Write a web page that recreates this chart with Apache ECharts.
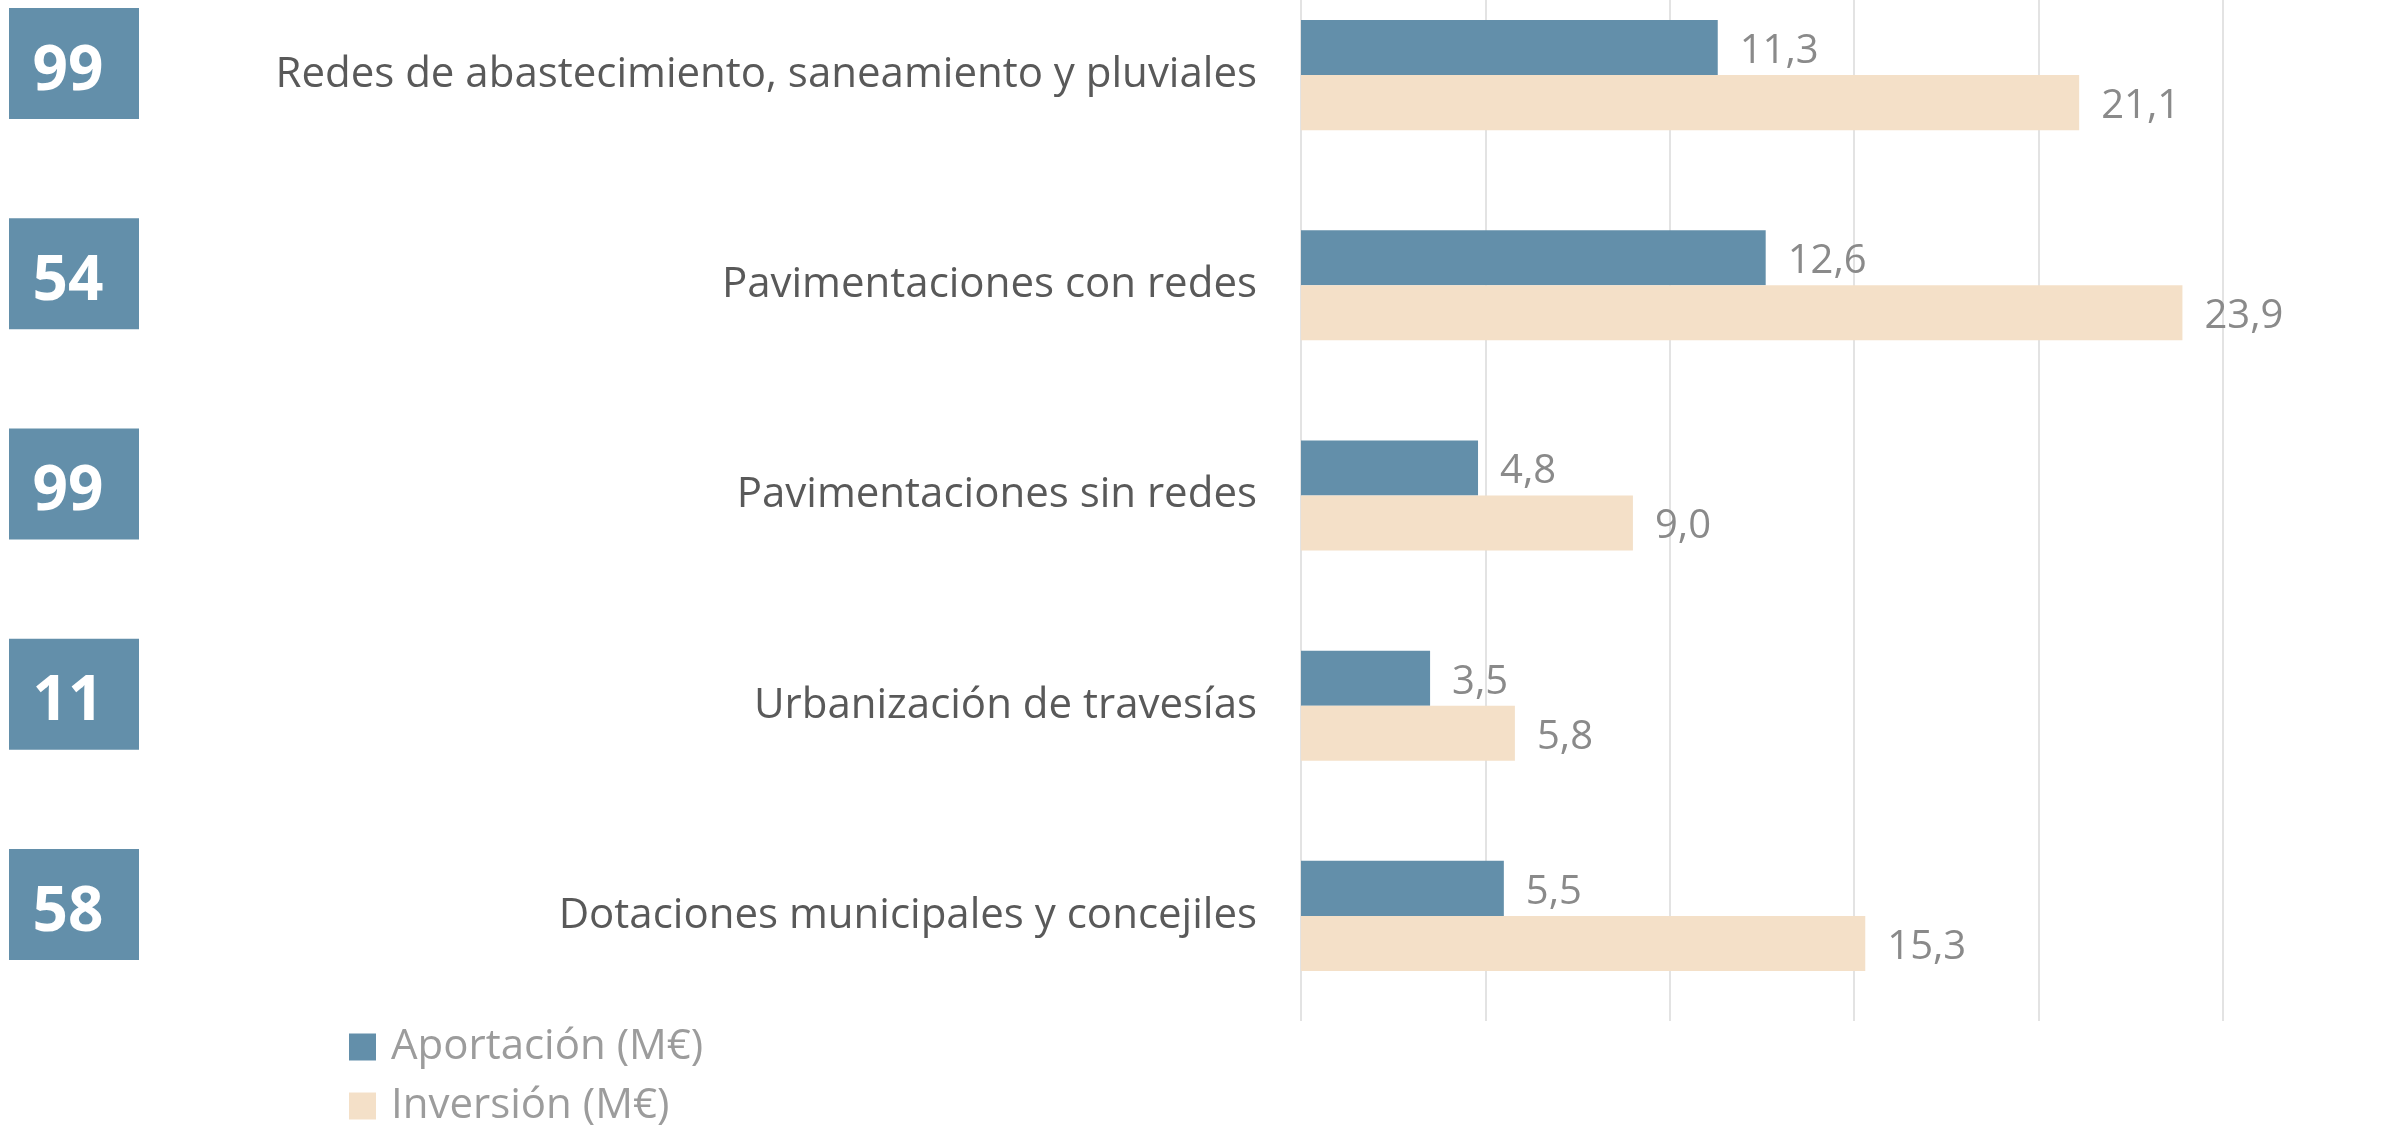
<!DOCTYPE html>
<html>
<head>
<meta charset="utf-8">
<script src="https://cdn.jsdelivr.net/npm/echarts@6/dist/echarts.min.js"></script>
<style>
  html, body { margin: 0; padding: 0; background: #fff; overflow: hidden; }
  /* el gráfico original está recortado por arriba: se sube 30px */
  #chart { width: 2394px; height: 1158px; margin-top: -30px; }
</style>
</head>
<body>
<div id="chart"></div>
<script>
// datos
const categorias = [
    'Redes de abastecimiento, saneamiento y pluviales',
    'Pavimentaciones con redes',
    'Pavimentaciones sin redes',
    'Urbanización de travesías',
    'Dotaciones municipales y concejiles'
];
const aportacion = [11.3, 12.6, 4.8, 3.5, 5.5];
const inversion = [21.1, 23.9, 9.0, 5.8, 15.3];
const numActuaciones = [99, 54, 99, 11, 58];
const nombresSeries = ['Aportación (M€)', 'Inversión (M€)'];

const FONT = '"Open Sans", "Noto Sans", sans-serif';
const fmt = v => v.toFixed(1).replace('.', ',');

const chart = echarts.init(document.getElementById('chart'));

const etiqueta = {
    show: true, position: 'right', distance: 22, offset: [0, 4], formatter: p => fmt(p.value),
    fontFamily: FONT, fontSize: 40, color: '#8a8a8a'
};

chart.setOption({
    animation: false,
    backgroundColor: '#ffffff',
    grid: { left: 1301, right: 171, top: 0, bottom: 107, containLabel: false },
    legend: {
        data: nombresSeries,
        orient: 'vertical',
        left: 344, top: 1051, height: 200,
        itemWidth: 27, itemHeight: 27, itemGap: 17,
        icon: 'rect',
        textStyle: { fontFamily: FONT, fontSize: 42, lineHeight: 40, color: '#9c9c9c', padding: [0, 0, 0, 10] }
    },
    xAxis: {
        type: 'value', min: 0, max: 25, interval: 5,
        axisLabel: { show: false },
        axisLine: { show: false },
        axisTick: { show: false },
        splitLine: { show: true, lineStyle: { color: '#e3e3e3', width: 2 } }
    },
    yAxis: {
        type: 'category', data: categorias, inverse: true,
        axisLine: { show: false },
        axisTick: { show: false },
        axisLabel: { fontFamily: FONT, fontSize: 42, color: '#595959', margin: 44, padding: [10, 0, 0, 0] }
    },
    series: [
        {
            name: nombresSeries[0], type: 'bar', data: aportacion,
            barGap: '0%', barCategoryGap: '47.6%',
            itemStyle: { color: '#638faa' },
            label: etiqueta
        },
        {
            name: nombresSeries[1], type: 'bar', data: inversion,
            itemStyle: { color: '#f4e0c8' },
            label: etiqueta
        },
        {
            // cajas con el número de actuaciones
            type: 'custom',
            data: numActuaciones.map((n, i) => [0, i, n]),
            encode: { x: 0, y: 1 },
            clip: false,
            z: 5,
            renderItem: (params, api) => {
                const cy = api.coord([0, api.value(1)])[1];
                return {
                    type: 'group',
                    children: [
                        { type: 'rect', shape: { x: 9, y: cy - 67, width: 130, height: 111 },
                          style: { fill: '#638faa' } },
                        { type: 'text', x: 68, y: cy - 3,
                          style: { text: String(api.value(2)), fill: '#ffffff', fontFamily: FONT,
                                   fontWeight: 'bold', fontSize: 62, align: 'center', verticalAlign: 'middle' } }
                    ]
                };
            }
        }
    ]
});
</script>
</body>
</html>
